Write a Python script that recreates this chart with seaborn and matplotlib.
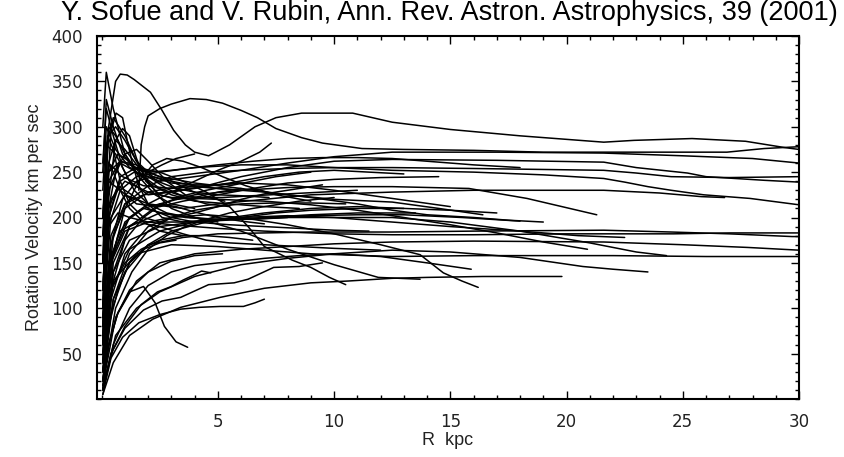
import matplotlib
matplotlib.use("Agg")
import matplotlib.pyplot as plt
from matplotlib.ticker import MultipleLocator
import seaborn as sns
import pandas as pd

# ---- rotation curves (R kpc, V km/s) ----
g01_r = [0.05, 0.3, 0.6, 0.8, 1.1, 1.4, 2.1, 2.6, 3.1, 3.6, 4.0, 4.6, 5.5, 6.6, 7.5, 8.6, 10.8, 12.5, 15, 18, 21.6, 22.9, 25.4, 27.7, 29.4, 30]
g01_v = [150, 300, 350, 358, 357, 352, 338, 318, 296, 280, 272, 268, 280, 300, 310, 315, 315, 305, 297, 290, 283, 285, 287, 284, 277, 275]
g02_r = [1.6, 1.7, 1.85, 2.0, 2.5, 3.0, 3.8, 4.5, 5.2, 6.0, 6.7, 7.5, 8.6, 9.5, 11.2, 13, 16, 19, 21.6, 24, 26.9, 28.5, 30]
g02_v = [230, 280, 300, 312, 320, 325, 331, 330, 326, 318, 310, 298, 288, 282, 276, 275, 274, 272, 272, 272, 272, 276, 278]
g03_r = [0.05, 0.2, 0.4, 0.62, 0.9, 1.1, 1.3, 1.6, 2.0, 2.6, 3.5, 5, 7, 9, 11, 13]
g03_v = [60, 200, 295, 315, 310, 285, 262, 235, 215, 200, 195, 198, 205, 210, 212, 210]
g04_r = [0.05, 0.3, 0.6, 0.9, 1.2, 1.5, 1.9, 2.5, 3.2, 4, 5, 6]
g04_v = [80, 220, 285, 298, 290, 265, 240, 225, 220, 222, 228, 232]
g06_r = [0.05, 0.3, 0.7, 1.2, 1.8, 2.3, 2.7, 3.2, 3.7]
g06_v = [10, 60, 95, 118, 124, 106, 80, 63, 57]
g07_r = [0.05, 0.4, 0.9, 1.6, 2.5, 3.4, 4.2, 5.1, 6.1, 6.6, 7.0]
g07_v = [5, 45, 68, 84, 93, 99, 101, 102, 102, 106, 110]
g08_r = [0.05, 0.5, 1.0, 1.7, 2.4, 3.0, 3.5, 4.0, 4.3, 4.7]
g08_v = [15, 55, 80, 104, 118, 124, 131, 137, 141, 139]
g09_r = [0.05, 0.4, 1.0, 1.8, 2.6, 3.4, 4.6, 5.7, 6.3, 7.4, 8.5, 9.5]
g09_v = [10, 50, 78, 98, 108, 112, 126, 128, 132, 145, 146, 150]
g10_r = [0.05, 0.5, 1.2, 2.2, 3.4, 5.1, 7.0, 9.0, 10.6, 12.5, 14, 16.4, 18.7, 19.8]
g10_v = [5, 40, 70, 88, 101, 112, 122, 128, 130, 133, 134, 135, 135, 135]
g11_r = [0.05, 0.6, 1.5, 2.5, 4, 6, 8, 10, 12.5, 15, 18, 20.7, 22, 23.5]
g11_v = [10, 70, 100, 118, 135, 148, 155, 160, 164, 162, 156, 146, 143, 140]
g12_r = [0.05, 0.5, 1.2, 2, 3, 4, 5, 6, 7, 8.5, 10, 12, 14, 15.9]
g12_v = [10, 60, 100, 125, 140, 147, 150, 152, 155, 158, 160, 157, 150, 143]
g13_r = [0.05, 0.4, 1, 2, 3, 4.5, 6, 8, 10, 12, 13.7, 14.7, 15.5, 16.2]
g13_v = [20, 110, 160, 190, 200, 203, 200, 192, 182, 170, 159, 139, 130, 123]
g14_r = [0.05, 0.3, 0.8, 1.5, 2.5, 3.5, 4.5, 5.5, 6.3, 7.0, 8.2, 9.0, 9.8, 10.5]
g14_v = [60, 200, 245, 255, 250, 240, 228, 212, 190, 168, 153, 145, 134, 126]
g15_r = [0.05, 0.5, 1.2, 2.5, 4, 6, 8, 10, 11.9, 13.7]
g15_v = [30, 150, 190, 205, 200, 185, 165, 148, 134, 132]
g16_r = [0.05, 0.5, 1.2, 2, 3, 4, 5, 6, 6.8, 7.3]
g16_v = [50, 160, 200, 215, 228, 240, 252, 262, 272, 282]
g17_r = [0.05, 0.3, 0.8, 1.5, 2.5, 4, 6, 8, 10, 12.5, 17, 21.6, 25, 28, 30]
g17_v = [120, 230, 260, 250, 240, 245, 252, 260, 267, 272, 272, 271, 268, 265, 260]
g18_r = [0.05, 0.2, 0.6, 1.2, 2, 3, 4.5, 6, 8, 10, 12.5, 17, 21.6, 23, 25.2, 26, 28.5, 30]
g18_v = [200, 280, 270, 240, 225, 228, 235, 245, 255, 262, 264, 263, 261, 255, 249, 245, 241, 239]
g19_r = [0.05, 0.4, 1, 2, 3, 4.5, 6, 8, 10, 12.5, 16, 21.6, 23, 24.5, 27, 30]
g19_v = [40, 170, 215, 235, 245, 250, 252, 254, 255, 255, 254, 252, 249, 245, 244, 245]
g20_r = [0.05, 0.3, 0.8, 1.5, 2.5, 4, 6, 8, 10, 12.5, 16, 19, 21.6, 22.5, 23.5, 24.5, 25.9, 27.9, 30]
g20_v = [70, 190, 230, 245, 250, 255, 258, 258, 255, 252, 250, 247, 243, 239, 234, 230, 225, 221, 214]
g21_r = [0.05, 0.5, 1.2, 2.5, 4, 6, 8, 10, 12.5, 15.8, 18.3, 21.3]
g21_v = [30, 140, 190, 215, 225, 230, 233, 234, 234, 232, 221, 203]
g22_r = [0.05, 0.4, 1, 2, 3.5, 5, 7, 9, 12.5, 16, 21.6, 24, 25.8, 26.8]
g22_v = [90, 200, 225, 215, 210, 215, 220, 225, 228, 230, 230, 227, 223, 222]
g23_r = [0.05, 0.5, 1.2, 2, 3.5, 5, 7, 9, 12.5, 16, 21.6, 24.5, 27, 29.7, 30]
g23_v = [20, 110, 150, 170, 178, 182, 183, 184, 184, 185, 186, 184, 182, 179, 179]
g24_r = [0.05, 0.4, 1, 2, 3, 5, 7, 10, 12.5, 16, 20, 24.6, 27, 30]
g24_v = [50, 150, 185, 195, 192, 188, 185, 182, 181, 181, 182, 182, 183, 183]
g25_r = [0.05, 0.6, 1.5, 2.5, 4, 6, 8, 10, 12.5, 16, 21.6, 25, 27.8, 30]
g25_v = [15, 90, 130, 150, 160, 165, 168, 171, 173, 174, 173, 170, 167, 164]
g26_r = [0.05, 0.5, 1.5, 3, 5, 7, 9, 12.5, 16, 19, 22, 26, 30]
g26_v = [60, 130, 160, 170, 168, 164, 160, 157, 158, 158, 158, 157, 157]
g27_r = [0.05, 0.4, 1, 2, 3, 5, 7, 9, 11, 13, 15, 17, 19, 20.9]
g27_v = [100, 220, 240, 228, 222, 220, 218, 214, 208, 200, 192, 183, 173, 165]
g28_r = [0.05, 0.5, 1.2, 2.5, 4, 6, 8, 10, 12.5, 15, 18, 21, 23, 24.3]
g28_v = [40, 140, 175, 190, 195, 198, 200, 200, 200, 195, 185, 172, 162, 158]
g29_r = [0.05, 0.3, 0.8, 1.5, 2.5, 4, 6, 8, 10, 12.5, 14.5, 16.4]
g29_v = [150, 250, 262, 255, 245, 238, 232, 225, 220, 217, 210, 203]
g30_r = [0.05, 0.5, 1, 2, 3.5, 5, 7, 9, 11, 12.5, 14, 16, 17.5, 19]
g30_v = [60, 180, 210, 228, 235, 232, 228, 222, 215, 208, 203, 200, 197, 195]
g31_r = [0.05, 0.4, 1.2, 2.5, 4, 6, 8, 10, 12.5, 15, 18, 20.5, 22.5]
g31_v = [30, 120, 165, 185, 195, 200, 202, 200, 195, 190, 185, 180, 178]
g32_r = [0.05, 0.3, 0.9, 1.8, 3, 4.5, 6, 8, 10, 12.5, 15]
g32_v = [180, 260, 245, 235, 232, 235, 238, 236, 230, 221, 212]
g33_r = [0.05, 0.3, 0.8, 1.5, 2.2, 3, 4, 5, 6]
g33_v = [120, 240, 262, 258, 248, 240, 235, 232, 230]
g34_r = [0.05, 0.2, 0.5, 0.9, 1.5, 2.2, 3, 4, 5.5, 7, 8.5]
g34_v = [250, 330, 300, 270, 250, 235, 225, 218, 215, 212, 210]
g35_r = [0.05, 0.3, 0.7, 1.2, 2, 3, 4, 5, 6, 7, 8, 9.5]
g35_v = [80, 190, 205, 200, 195, 200, 205, 212, 220, 226, 230, 236]
g36_r = [0.05, 0.2, 0.5, 1, 1.6, 2.3, 3, 4]
g36_v = [300, 360, 320, 270, 245, 225, 215, 210]
g37_r = [0.05, 0.4, 0.9, 1.5, 2.2, 3, 3.8, 4.6, 5.3]
g37_v = [50, 170, 220, 240, 245, 240, 230, 222, 218]
g38_r = [0.05, 0.3, 0.6, 1, 1.6, 2.4, 3.2, 4, 5, 6, 7.2]
g38_v = [100, 260, 285, 275, 255, 240, 232, 228, 225, 224, 222]
g39_r = [0.05, 0.6, 1.3, 2, 2.8, 3.6, 4.5, 5.5, 6.5, 7.5, 8.5, 10]
g39_v = [20, 100, 140, 165, 180, 190, 198, 205, 210, 214, 218, 222]
g40_r = [0.05, 0.2, 0.5, 1, 1.5, 2, 2.5, 3, 4, 5]
g40_v = [150, 280, 310, 290, 262, 240, 222, 210, 200, 195]
g41_r = [0.05, 0.3, 0.7, 1.3, 2, 3, 4, 5.5, 7, 8.5, 10, 11.5]
g41_v = [100, 210, 235, 225, 210, 200, 195, 192, 190, 188, 186, 185]
g42_r = [0.05, 0.5, 1, 1.8, 2.6, 3.5, 4.5, 5.5, 6.5, 7.5, 9]
g42_v = [30, 130, 175, 200, 215, 224, 230, 235, 240, 245, 250]
g43_r = [0.05, 0.2, 0.6, 1.2, 2, 3, 4, 5, 6.5, 8, 9.5, 11, 12.5, 14, 16, 18]
g43_v = [230, 300, 275, 255, 250, 252, 255, 258, 262, 265, 266, 266, 265, 262, 258, 255]
g44_r = [0.05, 0.4, 1, 1.7, 2.5, 3.5, 4.5, 5.5, 6.5]
g44_v = [40, 120, 150, 165, 175, 180, 180, 178, 175]
g45_r = [0.05, 0.3, 0.8, 1.5, 2.5, 3.5, 4.5, 5.5, 7, 8.5, 10, 12]
g45_v = [60, 150, 185, 195, 190, 182, 175, 172, 170, 168, 166, 164]
g46_r = [0.05, 0.3, 0.6, 1, 1.4, 2, 2.6, 3.2, 4]
g46_v = [200, 300, 290, 270, 255, 250, 258, 265, 270]
g47_r = [0.05, 0.4, 1, 1.6, 2.2, 2.8, 3.5, 4.3, 5.2, 6.2, 7.5, 9]
g47_v = [40, 150, 210, 240, 258, 265, 262, 255, 245, 235, 225, 218]
g48_r = [0.05, 0.3, 0.6, 1.0, 1.5, 2, 2.8, 3.6]
g48_v = [90, 210, 250, 270, 275, 262, 240, 225]
g49_r = [0.05, 0.25, 0.5, 0.8, 1.2, 1.8, 2.5, 3.5, 5, 7, 9, 11, 13.5]
g49_v = [180, 290, 275, 240, 215, 200, 195, 195, 197, 200, 203, 205, 205]
g50_r = [0.05, 0.4, 1, 2, 3, 4.5, 6, 7.5, 9, 11, 13, 15, 17]
g50_v = [20, 95, 140, 170, 185, 195, 200, 205, 208, 210, 210, 208, 205]
g51_r = [0.05, 0.3, 0.7, 1.2, 1.8, 2.5, 3.2]
g51_v = [10, 80, 120, 150, 165, 172, 175]
g52_r = [0.05, 0.3, 0.7, 1.2, 2, 3, 4, 5.2]
g52_v = [20, 60, 95, 120, 140, 152, 158, 160]
g53_r = [0.05, 0.15, 0.3, 0.5, 0.8, 1.2, 1.8, 2.5, 3.5]
g53_v = [100, 200, 260, 250, 230, 210, 195, 185, 180]
g54_r = [0.05, 0.3, 0.7, 1.2, 1.8, 2.5, 3.2, 4, 5, 6, 7]
g54_v = [60, 140, 180, 200, 210, 215, 212, 206, 200, 196, 193]
g55_r = [0.05, 0.3, 0.8, 1.5, 2.5, 3.5, 5, 6.5, 8, 10, 12, 14.5]
g55_v = [150, 240, 230, 215, 212, 218, 225, 232, 238, 242, 244, 245]
g56_r = [0.05, 0.4, 1, 1.8, 2.8, 4, 5.5, 7, 8.5, 10, 11.5, 13]
g56_v = [70, 180, 215, 225, 228, 232, 238, 245, 250, 252, 250, 248]
g57_r = [0.05, 0.3, 0.7, 1.2, 1.8, 2.5, 3.3, 4.2, 5.2, 6.5, 8, 9.5, 11]
g57_v = [120, 250, 270, 262, 245, 232, 225, 222, 222, 224, 226, 228, 230]
g58_r = [0.05, 0.5, 1.2, 2, 3, 4, 5, 6, 7.5, 9, 10.5]
g58_v = [30, 110, 160, 185, 200, 208, 212, 215, 216, 216, 215]
g59_r = [0.05, 0.3, 0.6, 1, 1.5, 2.2, 3, 4, 5, 6]
g59_v = [200, 290, 300, 285, 262, 245, 238, 236, 236, 238]
g60_r = [0.05, 0.4, 1, 1.8, 2.6, 3.6, 4.8, 6, 7.5, 9, 11, 13, 15.5, 18]
g60_v = [40, 150, 195, 210, 205, 200, 198, 198, 200, 202, 203, 203, 200, 196]
g61_r = [0.05, 0.3, 0.8, 1.4, 2, 2.8, 3.6, 4.5, 5.5]
g61_v = [80, 200, 240, 250, 245, 232, 222, 215, 212]
g62_r = [0.05, 0.2, 0.5, 0.9, 1.4, 2, 2.8, 3.8, 5, 6.5, 8]
g62_v = [260, 320, 290, 255, 230, 215, 205, 200, 198, 198, 200]

TITLE = "Y. Sofue and V. Rubin, Ann. Rev. Astron. Astrophysics, 39 (2001)"
XLABEL = "R  kpc"
YLABEL = "Rotation Velocity km per sec"
XTICKS = [5, 10, 15, 20, 25, 30]
YTICKS = [50, 100, 150, 200, 250, 300, 350, 400]

curves = [(g01_r, g01_v), (g02_r, g02_v), (g03_r, g03_v), (g04_r, g04_v),
          (g06_r, g06_v), (g07_r, g07_v), (g08_r, g08_v), (g09_r, g09_v),
          (g10_r, g10_v), (g11_r, g11_v), (g12_r, g12_v), (g13_r, g13_v),
          (g14_r, g14_v), (g15_r, g15_v), (g16_r, g16_v), (g17_r, g17_v),
          (g18_r, g18_v), (g19_r, g19_v), (g20_r, g20_v), (g21_r, g21_v),
          (g22_r, g22_v), (g23_r, g23_v), (g24_r, g24_v), (g25_r, g25_v),
          (g26_r, g26_v), (g27_r, g27_v), (g28_r, g28_v), (g29_r, g29_v),
          (g30_r, g30_v), (g31_r, g31_v), (g32_r, g32_v), (g33_r, g33_v),
          (g34_r, g34_v), (g35_r, g35_v), (g36_r, g36_v), (g37_r, g37_v),
          (g38_r, g38_v), (g39_r, g39_v), (g40_r, g40_v), (g41_r, g41_v),
          (g42_r, g42_v), (g43_r, g43_v), (g44_r, g44_v), (g45_r, g45_v),
          (g46_r, g46_v), (g47_r, g47_v), (g48_r, g48_v), (g49_r, g49_v),
          (g50_r, g50_v), (g51_r, g51_v), (g52_r, g52_v), (g53_r, g53_v),
          (g54_r, g54_v), (g55_r, g55_v), (g56_r, g56_v), (g57_r, g57_v),
          (g58_r, g58_v), (g59_r, g59_v), (g60_r, g60_v), (g61_r, g61_v),
          (g62_r, g62_v)]

rows = []
for i, (rr, vv) in enumerate(curves):
    for r, v in zip(rr, vv):
        rows.append({"galaxy": i, "R": r, "V": v})
df = pd.DataFrame(rows)

sns.set_style("ticks")
plt.rcParams["font.family"] = ["Liberation Sans", "DejaVu Sans"]

fig = plt.figure(figsize=(8.44, 4.57), dpi=100)
ax = fig.add_axes([97 / 844, 58 / 457, (799 - 97) / 844, (399 - 36) / 457])

sns.lineplot(data=df, x="R", y="V", units="galaxy", estimator=None, sort=False,
             color="black", linewidth=1.1, ax=ax, legend=False)

ax.set_xlim(-0.2, 30)
ax.set_ylim(0, 400)
ax.set_xticks(XTICKS)
ax.set_yticks(YTICKS)
ax.xaxis.set_minor_locator(MultipleLocator(1))
ax.yaxis.set_minor_locator(MultipleLocator(10))
ax.tick_params(which="both", direction="in", top=True, right=True, color="black", width=1.0)
ax.tick_params(which="major", length=6, labelsize=12, pad=10, labelcolor="#222222")
ax.tick_params(which="minor", length=3)
for lab in ax.get_xticklabels() + ax.get_yticklabels():
    lab.set_fontfamily(["DejaVu Sans"])
for sp in ax.spines.values():
    sp.set_linewidth(1.5)
    sp.set_color("black")

ax.set_xlabel(XLABEL, fontsize=13, labelpad=1, color="#222222")
ax.set_ylabel(YLABEL, fontsize=13, labelpad=6, color="#222222")
fig.text(0.533, 0.972, TITLE, ha="center", va="center", fontsize=19.5, color="black")

fig.savefig("out.png", dpi=100)
